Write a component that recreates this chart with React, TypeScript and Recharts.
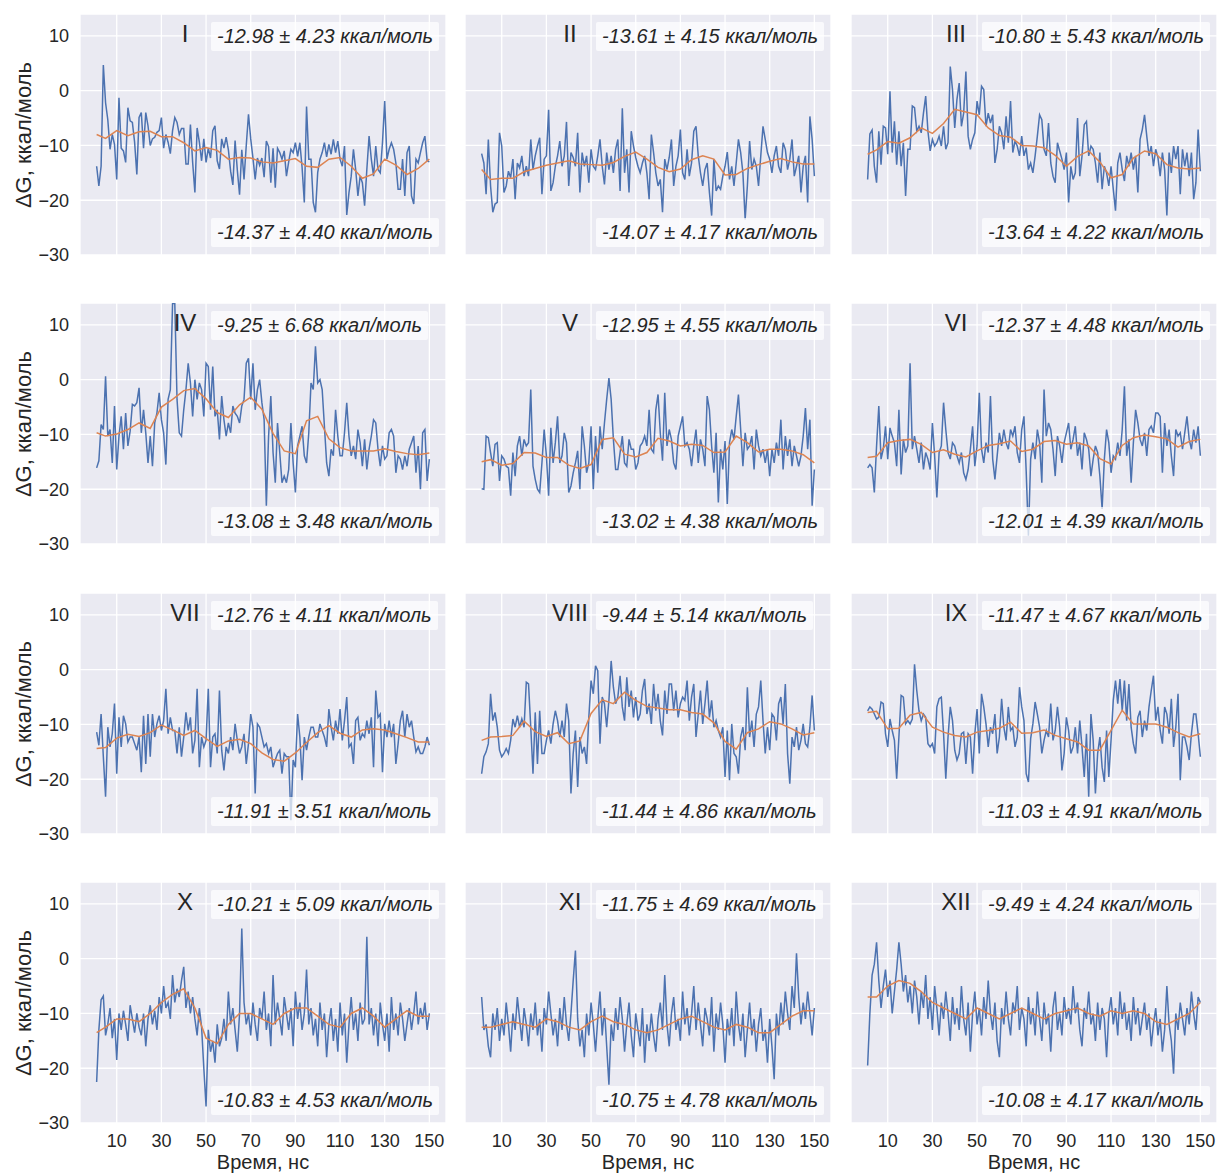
import React from "react";
import { CartesianGrid, Line, LineChart, XAxis, YAxis } from "recharts";

// time axis, ns
const times = [
  1, 2, 3, 4, 5, 6, 7, 8, 9, 10, 11, 12, 13, 14, 15, 16, 17, 18, 19, 20,
  21, 22, 23, 24, 25, 26, 27, 28, 29, 30, 31, 32, 33, 34, 35, 36, 37, 38, 39, 40,
  41, 42, 43, 44, 45, 46, 47, 48, 49, 50, 51, 52, 53, 54, 55, 56, 57, 58, 59, 60,
  61, 62, 63, 64, 65, 66, 67, 68, 69, 70, 71, 72, 73, 74, 75, 76, 77, 78, 79, 80,
  81, 82, 83, 84, 85, 86, 87, 88, 89, 90, 91, 92, 93, 94, 95, 96, 97, 98, 99, 100,
  101, 102, 103, 104, 105, 106, 107, 108, 109, 110, 111, 112, 113, 114, 115, 116, 117, 118, 119, 120,
  121, 122, 123, 124, 125, 126, 127, 128, 129, 130, 131, 132, 133, 134, 135, 136, 137, 138, 139, 140,
  141, 142, 143, 144, 145, 146, 147, 148, 149, 150,
];
// times at which the smoothed (orange) curve is sampled
const smoothTimes = [
  1, 5, 10, 15, 20, 25, 30, 35, 40, 45, 50, 55, 60, 65, 70, 75, 80, 85, 90, 95, 100,
  105, 110, 115, 120, 125, 130, 135, 140, 145, 150,
];
const xTicks = [10, 30, 50, 70, 90, 110, 130, 150];
const yTicks = [-30, -20, -10, 0, 10];

const blueI = [
  -13.8, -17.4, -13.8, 4.7, -2.2, -5.3, -10.7, -8, -9.8, -16.2,
  -1.3, -10.5, -11, -13.1, -3.1, -5.5, -5.8, -9.4, -15.3, -4.9,
  -4, -10.5, -4, -6.4, -10, -8.8, -8.5, -7.6, -7.3, -4.9,
  -10.5, -8, -9.4, -11.5, -7.3, -4.9, -5.8, -8, -6.9, -6.9,
  -13.4, -13.4, -6.2, -13.1, -18.6, -6.8, -9.4, -12.8, -8.8, -13.1,
  -10.5, -12.3, -7.3, -6.4, -12.8, -14.3, -8.8, -10.5, -8.5, -10.8,
  -14.7, -17.2, -9.1, -14.5, -19, -10.8, -16.2, -10, -4.3, -8.8,
  -12.3, -16.2, -12.3, -13.6, -12.3, -15.8, -9.2, -10.2, -16.8, -10.5,
  -17.7, -10.5, -11.3, -12.5, -11, -15.6, -13, -10.7, -11.3, -9.5,
  -12, -9.5, -14, -20.4, -2.9, -12.5, -12.5, -20.4, -22.2, -14.9,
  -12.5, -11.3, -9.5, -12.1, -9.8, -11.6, -8.9, -11.3, -9.2, -12.5,
  -13.8, -10.1, -22.7, -18.6, -15.6, -10.7, -14.4, -19.2, -15.6, -16.8,
  -21, -14.4, -8.3, -12.5, -15.6, -10.1, -14.4, -15, -9.5, -1.9,
  -12.5, -10.7, -9.5, -10.7, -13.2, -18, -18, -12.5, -19.2, -11.3,
  -10.1, -19.2, -20.7, -12.5, -13.2, -11.3, -9.5, -8.3, -12.8, -13,
];
const orangeI = [
  -8.0, -8.7, -7.3, -8.2, -7.5, -7.4, -8.4, -8.4, -9.5, -11.0, -10.4, -10.9, -12.5, -12.2, -12.3, -13.0,
  -13.2, -12.8, -12.4, -13.8, -14.0, -12.5, -12.2, -13.8, -16.0, -15.2, -12.5, -13.6, -15.3, -14.2, -12.5,
];

const blueII = [
  -11.5, -13.2, -18.9, -8.9, -17.4, -22.2, -20.7, -20.4, -7.7, -10.1,
  -18.6, -17.4, -14.7, -15.9, -12.5, -19.8, -13.2, -14.1, -11.9, -15.6,
  -13.8, -15.6, -8.9, -14.4, -11.9, -10.1, -8.6, -18.9, -12.5, -11.9,
  -3.5, -18.3, -16.8, -13.8, -11.9, -9.2, -13.8, -11.9, -5.7, -17.4,
  -11.3, -12.2, -13.8, -7.7, -18.6, -11.3, -13.8, -11.9, -16.8, -10.7,
  -13.8, -14.4, -11.9, -8.9, -13.8, -17.1, -11.3, -14.4, -11.9, -15,
  -10.7, -8.9, -18.3, -3.2, -15, -10.7, -18.6, -7.4, -10.1, -12.2,
  -13.8, -15, -13.2, -11.9, -15, -19.8, -8, -11.3, -15, -17.4,
  -16.2, -22.2, -12.5, -14.4, -12.2, -8.9, -17.4, -13.8, -11.9, -7.1,
  -15, -16.2, -10.7, -15.6, -13.2, -7.4, -6.5, -11.9, -15, -17.4,
  -14.4, -13.2, -18.6, -22.8, -12.5, -18.3, -17.4, -18, -15.6, -13.8,
  -11.2, -16.2, -13.8, -17.4, -13.2, -8.9, -11.3, -15, -23.5, -17.4,
  -9.2, -14.4, -12.5, -13.8, -17.4, -11.9, -6.5, -8.9, -11.3, -12.5,
  -15, -11.9, -10.1, -13.8, -15, -9.5, -10.7, -14.4, -12.5, -8.9,
  -15.6, -13.8, -11.9, -18.6, -13.8, -11.9, -20.4, -4.7, -8.9, -15.6,
];
const orangeII = [
  -14.4, -16.2, -16.0, -16.0, -14.8, -14.2, -13.6, -13.2, -12.8, -13.4, -13.5, -13.6, -13.1, -12.0, -11.2, -12.5,
  -14.0, -14.8, -14.3, -12.6, -11.9, -12.5, -15.4, -15.3, -14.2, -13.5, -12.9, -12.4, -13.0, -13.4, -13.4,
];

const blueIII = [
  -16.2, -7.9, -7.2, -13.8, -16.8, -7.4, -13.5, -6.5, -6.8, -11.6,
  -0.1, -11.3, -5.6, -13.5, -7.4, -13.8, -9.5, -19.2, -10.7, -10.7,
  -2.8, -3.1, -7.4, -6.5, -7.7, -4.1, -1.0, -7.4, -11, -8.9,
  -10.1, -9.5, -8.3, -10.1, -6.5, -10.7, -9.5, 4.4, 0.2, -6.8,
  -1.6, 1.4, -6.5, -4.1, 3.5, -8.3, -10.7, -8.9, -7.7, -1.9,
  -4.4, 0.8, 0.2, -6.5, -4.1, -5.9, -4.4, -13.2, -10.7, -6.5,
  -7.7, -10.7, -4.7, -9.5, -1.9, -11.3, -9.2, -10.1, -11.9, -8.3,
  -11.9, -10.4, -14.4, -13.2, -15, -11.9, -8.3, -4.4, -5.3, -10.7,
  -11.9, -5.9, -13.2, -15.6, -16.8, -9.5, -11, -12.5, -14.4, -11.3,
  -20.4, -13.8, -16.2, -15, -5, -15.6, -11.9, -6.2, -5.6, -11.9,
  -10.1, -10.7, -13.2, -16.8, -11.3, -18, -13.8, -15, -17.4, -13.8,
  -18, -21.9, -13.2, -11.3, -14.4, -16.5, -11.9, -13.8, -11.3, -14.4,
  -11.9, -18.6, -8.9, -7.1, -4.4, -8.3, -11.9, -10.1, -13.8, -10.7,
  -12.2, -15.6, -11.3, -14.4, -22.8, -11.3, -15, -10.1, -12.5, -10.1,
  -18.9, -10.7, -13.8, -11.3, -15.6, -11.3, -19.8, -16.8, -7.1, -14.7,
];
const orangeIII = [
  -11.6, -10.8, -9.3, -9.6, -8.6, -6.8, -7.8, -6.0, -3.4, -3.9, -4.4, -6.8, -8.2, -8.5, -10.0, -10.1,
  -10.4, -11.8, -13.8, -12.0, -11.0, -13.0, -15.9, -15.3, -12.3, -11.0, -11.5, -13.5, -14.1, -14.3, -14.1,
];

const blueIV = [
  -16.1, -14.8, -8.2, -9.1, 0.6, -10.3, -9.1, -15.2, -4.8, -16.4,
  -10.3, -6.7, -12.7, -6.1, -12.1, -9.4, -4.5, -4.8, -4.2, -1.5,
  -9.7, -5.5, -9.7, -15.2, -10.3, -15.8, -7.9, -6.1, -2.4, -7.3,
  -9.7, -15.5, -3.6, -1.8, 13.9, 13.9, -3.6, -9.7, -10.3, -5.5,
  -1.8, 3.0, -0.6, -6.7, 0, -3.6, -0.6, -1.8, -6.7, 3.0,
  2.4, -5.5, 2.4, -6.7, -5.5, -10.9, -3.0, -7.3, -10.3, -7.9,
  -9.7, -4.8, -6.1, -6.7, -7.9, -4.8, -3.6, 3.0, 3.9, -3.6,
  3.0, -5.5, -1.8, 0, -4.2, -7.3, -23, -10.3, -3.0, -13.3,
  -18.8, -7.9, -13.3, -18.8, -17.6, -18.8, -16.4, -7.9, -15.2, -20.6,
  -12.1, -10.3, -8.5, -13.9, -15.2, -9.7, -0.6, -1.8, 6.1, -0.6,
  0, -1.8, -8.5, -15.2, -17.6, -12.7, -13.9, -5.5, -10.3, -13.9,
  -13.9, -9.7, -4.2, -10.3, -13.9, -12.1, -14.5, -9.1, -11.5, -15.8,
  -10.9, -16.4, -12.7, -10.3, -7.3, -7.9, -12.7, -15.8, -12.1, -14.5,
  -13.9, -9.7, -9.1, -10.3, -17, -13.9, -14.5, -16.4, -13.9, -15.8,
  -12.7, -11.5, -10.3, -17, -12.1, -20, -9.7, -9.1, -18.5, -14.5,
];
const orangeIV = [
  -9.7, -10.3, -9.9, -9.1, -7.9, -8.9, -5.0, -3.6, -2.0, -1.6, -3.5, -6.0, -6.9, -4.6, -3.2, -5.4,
  -9.8, -13.0, -13.5, -7.5, -6.7, -10.8, -12.4, -13.0, -13.0, -13.0, -12.6, -13.1, -13.5, -13.7, -13.4,
];

const blueV = [
  -19.9, -20, -10.3, -10.6, -13.3, -15.8, -11.8, -11.5, -18.5, -13.9,
  -14.5, -15.8, -16.1, -21.2, -13.3, -17.6, -12.1, -10.3, -13.9, -10.9,
  -12.1, -11.5, -1.8, -15.8, -18.2, -20, -20.6, -15.2, -9.1, -13.9,
  -21.2, -8.8, -15.2, -11.5, -6.7, -15.2, -13.9, -9.7, -11.5, -20.6,
  -19.4, -17, -15.2, -13, -20, -8.5, -12.1, -17, -15.2, -8.5,
  -20, -10.3, -17, -8.5, -12.7, -7.9, -3.6, 0.3, -3.6, -10.9,
  -16.4, -16.4, -13.3, -10.3, -15.2, -15.8, -10.9, -12.7, -12.7, -16.4,
  -15.2, -12.1, -11.5, -10.3, -12.1, -5.5, -12.7, -13.3, -5.5, -2.7,
  -9.7, -14.8, -2.4, -12.1, -9.1, -10.9, -15.2, -16.4, -10.3, -8.5,
  -6.7, -12.1, -11.5, -12.7, -15.8, -12.1, -9.1, -15.2, -10.9, -12.7,
  -15.8, -3.0, -5.5, -12.1, -17, -9.7, -22.4, -12.7, -16.4, -11.2,
  -22.7, -11.5, -9.1, -10.9, -6.7, -2.7, -9.1, -15.8, -9.7, -12.7,
  -12.1, -10.3, -16.4, -9.1, -12.1, -13.9, -12.7, -15.2, -12.7, -17.6,
  -12.7, -15.2, -11.5, -13.9, -7.3, -16.4, -10.3, -13.9, -10.9, -15.8,
  -12.1, -13.9, -15.8, -13.9, -10.3, -5.2, -12.7, -7.3, -23, -16.4,
];
const orangeV = [
  -15.0, -14.6, -15.6, -15.3, -13.3, -13.4, -14.2, -14.2, -15.6, -16.2, -15.5, -10.9, -10.6, -13.6, -14.1, -13.3,
  -10.7, -11.2, -12.1, -11.8, -12.0, -13.3, -13.2, -10.3, -11.5, -13.2, -12.7, -12.7, -13.0, -13.7, -15.2,
];

const blueVI = [
  -16.1, -15.5, -16.1, -20.6, -12.1, -4.8, -14.5, -12.7, -8.5, -14.5,
  -8.8, -10.3, -11.5, -15.8, -5.5, -17.3, -10.9, -13.3, -12.1, 3,
  -12.7, -10.3, -12.7, -15.2, -11.5, -16.4, -13.3, -14.5, -16.4, -7.9,
  -13.9, -21.5, -13.3, -12.1, -4.2, -9.1, -13.3, -14.5, -11.5, -12.1,
  -13.9, -15.2, -13.3, -17, -18.2, -16.4, -12.7, -8.5, -15.8, -12.1,
  -2.4, -12.7, -15.2, -11.5, -13.3, -3, -14.5, -18.2, -13.9, -9.7,
  -12.1, -9.1, -11.5, -12.7, -9.1, -10.3, -8.5, -13.3, -15.2, -9.1,
  -6.7, -16.7, -28.5, -14.5, -11.5, -14.5, -9.1, -11.5, -18.8, -1.8,
  -10.3, -7.9, -9.1, -12.7, -17.6, -10.3, -12.1, -15.2, -11.5, -9.7,
  -7.9, -12.7, -10.9, -8.5, -13.9, -11.5, -16.4, -9.7, -10.9, -12.7,
  -17.6, -14.5, -12.1, -13.3, -17.6, -23.6, -14.5, -9.1, -11.5, -17,
  -13.9, -14.5, -11.5, -13.9, -9.1, -1.2, -13.9, -10.9, -18.8, -11.5,
  -5.5, -7.9, -10.9, -12.1, -9.7, -13.9, -9.1, -8.5, -9.7, -6.1,
  -6.1, -6.7, -17, -7.9, -12.1, -9.1, -13.9, -17.6, -9.1, -10.3,
  -9.7, -12.7, -9.7, -6.7, -10.9, -12.7, -9.1, -11.5, -8.5, -13.9,
];
const orangeVI = [
  -14.2, -14.0, -11.5, -11.1, -10.9, -11.8, -13.3, -12.8, -13.6, -14.1, -13.0, -12.0, -11.7, -11.2, -13.1, -12.7,
  -11.3, -11.1, -11.8, -11.5, -12.1, -14.4, -15.4, -12.0, -10.6, -10.1, -10.4, -10.8, -12.3, -11.3, -10.9,
];

const blueVII = [
  -11.4, -13.8, -8.1, -15.9, -23.2, -10.5, -14.1, -11.7, -6.2, -19,
  -8.7, -14.1, -8.4, -9.9, -13.2, -12.3, -12.3, -13.5, -14.7, -12.3,
  -18.7, -8.4, -17.2, -8.1, -15.9, -8.1, -12.3, -9.9, -8.4, -11.1,
  -9.3, -3.5, -11.7, -8.7, -11.1, -11.1, -15.3, -10.5, -15.9, -12.3,
  -7.8, -11.1, -8.7, -15.3, -12.9, -3.5, -17.8, -12.3, -14.1, -12.9,
  -3.5, -17.8, -12.3, -11.7, -15.3, -3.8, -14.7, -18.4, -14.1, -15.3,
  -12.3, -14.7, -9.9, -12.9, -15.3, -14.1, -11.7, -17.2, -13.5, -8.1,
  -10.5, -22.6, -9.9, -10.5, -12.3, -14.1, -13.5, -15.3, -14.1, -17.8,
  -16.5, -15.3, -14.7, -19, -15.3, -15.9, -15.9, -27.5, -16.5, -17.8,
  -8.1, -12.3, -20.2, -12.3, -14.7, -12.3, -10.5, -10.5, -12.3, -12.3,
  -9.9, -11.1, -12.3, -14.1, -7.2, -10.5, -12.9, -9.3, -11.7, -7.2,
  -12.9, -9.3, -5, -14.1, -13.5, -17.2, -9.3, -8.7, -12.9, -11.7,
  -12.3, -9.3, -11.7, -8.7, -17.8, -3.8, -8.7, -8.1, -18.7, -9.9,
  -12.3, -9.3, -12.3, -9.9, -17.2, -13.5, -9.3, -7.5, -12.3, -8.1,
  -10.5, -9.3, -12.3, -15, -14.1, -15.3, -15.3, -14.1, -12.3, -13.8,
];
const orangeVII = [
  -14.4, -14.2, -12.5, -11.8, -12.2, -11.5, -10.1, -11.0, -12.0, -11.1, -12.6, -14.0, -13.0, -12.7, -13.5, -15.2,
  -16.4, -16.7, -15.2, -13.3, -11.5, -10.2, -11.6, -12.3, -11.0, -10.8, -11.0, -11.7, -12.4, -13.2, -13.2,
];

const blueVIII = [
  -19, -15.9, -15, -13.5, -4.4, -9.3, -7.8, -10.5, -14.7, -15.9,
  -15.3, -14.4, -15.3, -12.9, -9, -10.5, -8.4, -10.5, -9, -10.5,
  -2.3, -2.6, -10.5, -19, -7.8, -17.2, -7.5, -15.3, -15.3, -12.9,
  -11.1, -13.5, -9.9, -7.5, -9.3, -12.3, -9.3, -12.3, -6.2, -9.3,
  -22.6, -15.3, -11.1, -21.4, -12.3, -15.3, -14.1, -17.2, -8.7, -2,
  -4.4, 0.7, -0.2, -13.5, -5, -6.2, -10.5, -5.6, 1.6, -3.2,
  -6.2, -5, -1.1, -6.8, -9.3, -1.4, -6.8, -3.8, -8.7, -5,
  -9.3, -8.1, -3.8, -1.7, -8.1, -6.2, -9.9, -2.6, -7.5, -4.4,
  -9.3, -12, -3.8, -8.1, -2.6, -2.6, -7.5, -3.8, -8.7, -6.2,
  -5, -5.6, -2, -9.3, -5, -2.6, -12.3, -8.1, -3.8, -9.9,
  -6.2, -2, -8.7, -5.6, -10.5, -9.3, -11.1, -12.3, -10.5, -19.6,
  -11.1, -20.2, -9.9, -15.3, -15.9, -19, -12.3, -10.5, -14.7, -3.2,
  -12.3, -9.3, -14.1, -8.1, -6.8, -2, -9.3, -15.3, -10.5, -14.7,
  -8.1, -8.7, -12.9, -6.2, -5, -9.9, -2.6, -15.3, -20.8, -12.3,
  -14.1, -10.5, -14.7, -12.9, -9.9, -13.5, -14.1, -10.5, -4.7, -11.1,
];
const orangeVIII = [
  -12.9, -12.3, -12.2, -12.0, -9.4, -11.3, -12.2, -11.5, -13.5, -13.0, -8.0, -5.5, -6.2, -4.1, -5.6, -6.7,
  -7.0, -7.3, -7.3, -7.8, -8.1, -9.7, -13.1, -14.5, -11.5, -10.8, -9.5, -9.9, -10.8, -11.9, -11.5,
];

const blueIX = [
  -7.5, -6.8, -7.2, -8.1, -9, -8.7, -5.9, -6.2, -11.7, -14.1,
  -9, -11.1, -12.9, -19.9, -12.3, -4.7, -5, -9.9, -9.3, -9.9,
  -9, 1, -3.8, -7.5, -9.3, -8.1, -8.7, -13.5, -14.1, -13.5,
  -15.3, -6.8, -5.3, -5, -11.7, -19.9, -12.3, -6.8, -9.3, -14.7,
  -16.5, -15.3, -11.7, -11.4, -17.2, -11.7, -12.3, -19, -11.7, -7.2,
  -15.3, -4.4, -6.8, -9.9, -14.1, -10.5, -11.7, -8.1, -15.3, -12.3,
  -5.3, -10.5, -12.9, -6.8, -11.1, -10.5, -14.1, -12.3, -3.2, -6.8,
  -9.3, -19, -20.5, -12.6, -9.9, -5.9, -8.1, -10.5, -15.3, -12.9,
  -11.1, -12.3, -6.2, -12.9, -11.1, -6.8, -10.5, -18.4, -15.3, -8.7,
  -11.1, -15.3, -14.1, -10.5, -15.3, -9.3, -14.1, -19.6, -11.7, -23.2,
  -8.1, -12.9, -22.6, -15.3, -12.3, -17.8, -20.5, -11.1, -19.6, -12.9,
  -5.6, -2, -6.2, -1.7, -7.5, -2, -9.3, -2.6, -10.5, -13.5,
  -15.3, -8.7, -7.5, -12.3, -9.3, -11.1, -6.8, -3.8, -1.1, -9.3,
  -6.8, -11.1, -13.5, -6.8, -8.1, -11.7, -5.3, -14.1, -10.5, -4.4,
  -20.2, -12.3, -12.3, -14.1, -16.5, -11.7, -8.1, -8.1, -11.7, -15.9,
];
const orangeIX = [
  -7.8, -7.6, -10.8, -10.7, -8.3, -7.8, -10.5, -11.4, -12.0, -12.3, -11.4, -11.1, -10.7, -9.6, -11.6, -11.5,
  -11.0, -12.0, -12.6, -13.2, -14.7, -14.7, -11.1, -7.4, -9.9, -9.9, -9.9, -10.5, -11.5, -12.3, -11.7,
];

const blueX = [
  -22.5, -13, -7.5, -6.8, -14, -12, -9, -14.5, -11, -18.5,
  -10, -13, -9.5, -12, -15, -8.5, -11, -13.5, -10, -12.5,
  -14, -10, -16, -11, -8.5, -12, -9.5, -13, -7, -10,
  -5, -9, -8, -11, -3, -8, -5.5, -7, -4, -1.5,
  -9, -6, -10, -7, -11, -14, -9, -12.5, -20, -27,
  -13, -17, -15, -19, -12, -16, -14.5, -11, -15, -6,
  -12, -9, -13, -17, -10, 5.5, -8, -12, -10, -14,
  -8, -12, -15, -9, -11, -6, -13, -10, -16, -3,
  -12, -8, -11, -14, -7, -10, -13, -9, -16, -6,
  -11, -8, -13, -10, -2, -12, -9, -14, -11, -16,
  -8, -13, -10, -18, -12, -9, -15, -11, -17, -8,
  -14, -10, -19, -12, -7, -13, -10, -15, -8, -12,
  -11, 4, -12, -9, -14, -10, -16, -8, -12, -15,
  -10, -17, -7, -13, -10, -14, -8, -11, -15, -12,
  -9, -13, -10, -6, -12, -9, -11, -8, -13, -10,
];
const orangeX = [
  -13.5, -12.5, -11, -11, -11.5, -10, -8, -6.5, -5.5, -9, -14.5, -15.5, -12, -10, -10, -11,
  -12, -10, -9, -9, -10.5, -12, -12.5, -10, -9, -10.5, -12.5, -11, -9.5, -10.5, -10.5,
];

const blueXI = [
  -7, -13, -12, -16, -18, -10, -13, -9, -15, -11,
  -14, -8, -12, -17, -10, -13, -7, -11, -15, -9,
  -12, -16, -10, -13, -8, -14, -11, -17, -9, -12,
  -6, -10, -14, -11, -16, -9, -13, -7, -12, -15,
  -10, -4, 1.5, -11, -16, -13, -18, -10, -14, -8,
  -12, -17, -11, -6, -14, -9, -16, -23, -12, -15,
  -9, -13, -7, -11, -17, -12, -8, -14, -18, -10,
  -13, -16, -9, -19, -12, -15, -10, -14, -17, -11,
  -8, -13, -3, -12, -16, -10, -7, -13, -11, -15,
  -6, -12, -9, -14, -10, -5, -13, -8, -12, -16,
  -9, -11, -14, -7, -17, -10, -13, -8, -12, -19,
  -11, -14, -9, -16, -6, -12, -15, -10, -18, -13,
  -8, -14, -11, -17, -12, -9, -15, -13, -19, -11,
  -16, -22, -10, -14, -8, -12, -6, -10, -13, -5,
  -9, 1, -7, -12, -8, -11, -6, -10, -14, -9,
];
const orangeXI = [
  -12.5, -12.5, -12, -11.5, -12, -12.5, -11, -11.5, -12.5, -13, -11.5, -10.5, -11.5, -12, -13, -13.5,
  -13, -12, -11, -10.5, -11.5, -12.5, -13, -12, -12.5, -13.5, -13.5, -12, -10.5, -9.5, -9.5,
];

const blueXII = [
  -19.5, -10, -3, -1, 3, -4, -9, -5, -2, -7,
  -4, -10, -6, -2, 3, -1, -6, -3, -8, -5,
  -10, -4, -7, -12, -6, -9, -3, -11, -7, -13,
  -5, -9, -14, -8, -11, -6, -10, -15, -7, -12,
  -9, -13, -5, -11, -14, -8, -17, -10, -6, -12,
  -9, -14, -7, -11, -4, -10, -13, -8, -15, -18,
  -9, -12, -6, -11, -14, -8, -10, -5, -13, -9,
  -11, -16, -7, -12, -9, -14, -6, -11, -15, -8,
  -12, -10, -17, -9, -6, -13, -10, -14, -7, -11,
  -9, -12, -5, -10, -8, -13, -16, -9, -11, -6,
  -12, -10, -15, -8, -13, -9, -11, -18, -10, -7,
  -12, -9, -14, -6, -11, -8, -13, -10, -15, -7,
  -12, -9, -14, -11, -8, -13, -10, -16, -12, -9,
  -14, -11, -17, -13, -5, -12, -15, -21, -10, -13,
  -8, -11, -14, -9, -12, -6, -10, -13, -7, -8,
];
const orangeXII = [
  -7, -7, -5, -4, -4.5, -6, -8, -9, -10, -11, -9, -10, -11, -10, -9, -10,
  -11, -10, -9.5, -9, -10, -10.5, -9.5, -10, -9.5, -10, -11.5, -12, -11, -10, -8,
];

const panelNames = ["I", "II", "III", "IV", "V", "VI", "VII", "VIII", "IX", "X", "XI", "XII"];
const topNotes = [
  "-12.98 ± 4.23 ккал/моль", "-13.61 ± 4.15 ккал/моль", "-10.80 ± 5.43 ккал/моль",
  "-9.25 ± 6.68 ккал/моль", "-12.95 ± 4.55 ккал/моль", "-12.37 ± 4.48 ккал/моль",
  "-12.76 ± 4.11 ккал/моль", "-9.44 ± 5.14 ккал/моль", "-11.47 ± 4.67 ккал/моль",
  "-10.21 ± 5.09 ккал/моль", "-11.75 ± 4.69 ккал/моль", "-9.49 ± 4.24 ккал/моль",
];
const bottomNotes = [
  "-14.37 ± 4.40 ккал/моль", "-14.07 ± 4.17 ккал/моль", "-13.64 ± 4.22 ккал/моль",
  "-13.08 ± 3.48 ккал/моль", "-13.02 ± 4.38 ккал/моль", "-12.01 ± 4.39 ккал/моль",
  "-11.91 ± 3.51 ккал/моль", "-11.44 ± 4.86 ккал/моль", "-11.03 ± 4.91 ккал/моль",
  "-10.83 ± 4.53 ккал/моль", "-10.75 ± 4.78 ккал/моль", "-10.08 ± 4.17 ккал/моль",
];
const blueSeries = [blueI, blueII, blueIII, blueIV, blueV, blueVI, blueVII, blueVIII, blueIX, blueX, blueXI, blueXII];
const orangeSeries = [
  orangeI, orangeII, orangeIII, orangeIV, orangeV, orangeVI,
  orangeVII, orangeVIII, orangeIX, orangeX, orangeXI, orangeXII,
];

const BLUE = "#4C72B0";
const ORANGE = "#DD8452";
const BG = "#EAEAF2";
const TEXT = "#262626";
const FONT = '"Liberation Sans", Arial, Helvetica, sans-serif';

const colLeft = [80, 465, 851];
const rowTop = [14, 303, 593, 882];
const PW = 366;
const PH = 241;

const fmt = (v: number) => (v < 0 ? "\u2212" + Math.abs(v) : String(v));

function buildRows(blue: number[], orange: number[]) {
  const sm = new Map<number, number>();
  smoothTimes.forEach((t, i) => sm.set(t, orange[i]));
  return times.map((t, i) => ({ t, b: blue[i], o: sm.has(t) ? sm.get(t) : null }));
}

const noteStyle: React.CSSProperties = {
  position: "absolute",
  padding: "3px 6px",
  lineHeight: "23px",
  fontSize: 20,
  fontStyle: "italic",
  color: TEXT,
  background: "rgba(255,255,255,0.72)",
  borderRadius: 2,
  whiteSpace: "nowrap",
};

function Panel({ idx }: { idx: number }) {
  const row = Math.floor(idx / 3);
  const col = idx % 3;
  const left = colLeft[col];
  const top = rowTop[row];
  const yW = col === 0 ? 80 : 0;
  const last = row === 3;
  // bottom row gets the x axis; the others get a little room so "−30" is not cut off
  const xH = last ? 28 : 12;
  const data = buildRows(blueSeries[idx], orangeSeries[idx]);

  return (
    <>
      <div style={{ position: "absolute", left: left - yW, top }}>
        <LineChart
          width={PW + yW}
          height={PH + xH}
          data={data}
          margin={{ top: 0, right: 0, bottom: last ? 0 : xH, left: 0 }}
        >
          <CartesianGrid fill={BG} stroke="#FFFFFF" strokeWidth={1.3} />
          <XAxis
            type="number"
            dataKey="t"
            domain={[-6.45, 157.45]}
            allowDataOverflow
            ticks={xTicks}
            hide={!last}
            height={last ? xH : 30}
            axisLine={false}
            tickLine={false}
            tickSize={0}
            tickMargin={11}
            tick={{ fill: TEXT, fontSize: 18 }}
          />
          <YAxis
            type="number"
            domain={[-30, 14]}
            allowDataOverflow
            ticks={yTicks}
            hide={col !== 0}
            width={yW || 60}
            axisLine={false}
            tickLine={false}
            tickSize={0}
            tickMargin={11}
            tickFormatter={fmt}
            tick={{ fill: TEXT, fontSize: 18 }}
          />
          <Line
            type="linear"
            dataKey="b"
            stroke={BLUE}
            strokeWidth={1.5}
            dot={false}
            isAnimationActive={false}
          />
          <Line
            type="linear"
            dataKey="o"
            stroke={ORANGE}
            strokeWidth={1.5}
            dot={false}
            connectNulls
            isAnimationActive={false}
          />
        </LineChart>
      </div>
      <div
        style={{
          position: "absolute",
          left: left + 75,
          width: 60,
          top: top + 8,
          textAlign: "center",
          fontSize: 24,
          lineHeight: "24px",
          color: TEXT,
        }}
      >
        {panelNames[idx]}
      </div>
      <div style={{ ...noteStyle, left: left + 131, top: top + 7.5 }}>{topNotes[idx]}</div>
      <div style={{ ...noteStyle, left: left + 131, top: top + 204 }}>{bottomNotes[idx]}</div>
      {col === 0 && (
        <div
          style={{
            position: "absolute",
            left: 23 - PH / 2,
            top: top + PH / 2 - 12,
            width: PH,
            height: 24,
            lineHeight: "24px",
            textAlign: "center",
            fontSize: 22,
            color: TEXT,
            transform: "rotate(-90deg)",
            transformOrigin: "center",
            whiteSpace: "nowrap",
          }}
        >
          ΔG, ккал/моль
        </div>
      )}
      {last && (
        <div
          style={{
            position: "absolute",
            left,
            width: PW,
            top: 1152,
            textAlign: "center",
            fontSize: 20,
            lineHeight: "20px",
            color: TEXT,
          }}
        >
          Время, нс
        </div>
      )}
    </>
  );
}

export default function App() {
  return (
    <div
      style={{
        position: "absolute",
        left: 0,
        top: 0,
        width: 1218,
        height: 1174,
        background: "#FFFFFF",
        overflow: "hidden",
        fontFamily: FONT,
      }}
    >
      {panelNames.map((_, i) => (
        <Panel key={i} idx={i} />
      ))}
    </div>
  );
}
